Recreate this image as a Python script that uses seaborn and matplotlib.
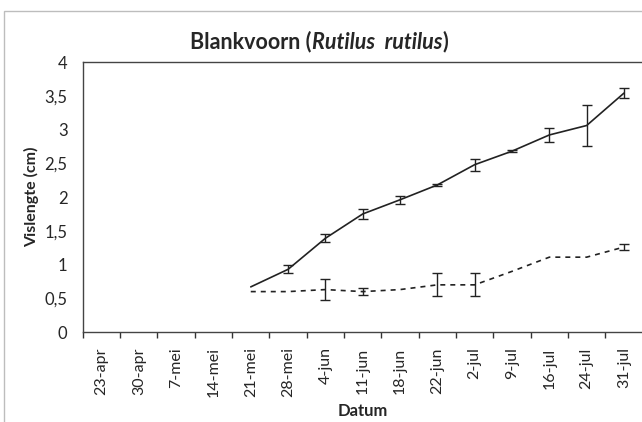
import matplotlib
matplotlib.use("Agg")
import matplotlib.pyplot as plt
import matplotlib.ticker as mticker
from matplotlib.patches import Rectangle
import seaborn as sns
import pandas as pd
import numpy as np

dates = ["23-apr", "30-apr", "7-mei", "14-mei", "21-mei", "28-mei", "4-jun", "11-jun",
         "18-jun", "22-jun", "2-jul", "9-jul", "16-jul", "24-jul", "31-jul"]

# doorgetrokken lijn
lengte_a = [np.nan, np.nan, np.nan, np.nan, 0.67, 0.93, 1.39, 1.75, 1.96, 2.18, 2.48, 2.68, 2.92, 3.06, 3.54]
fout_a = [0, 0, 0, 0, 0.0, 0.06, 0.06, 0.08, 0.06, 0.02, 0.09, 0.01, 0.11, 0.30, 0.07]

# gestippelde lijn
lengte_b = [np.nan, np.nan, np.nan, np.nan, 0.60, 0.60, 0.63, 0.60, 0.63, 0.70, 0.70, 0.90, 1.11, 1.11, 1.26]
fout_b = [0, 0, 0, 0, 0.0, 0.0, 0.15, 0.05, 0.0, 0.17, 0.17, 0.0, 0.0, 0.0, 0.05]

sns.set_style("white")
plt.rcParams["font.family"] = ["Lato", "DejaVu Sans"]

df = pd.DataFrame({"pos": np.arange(len(dates)), "a": lengte_a, "b": lengte_b,
                   "fa": fout_a, "fb": fout_b})

fig = plt.figure(figsize=(6.42, 4.22), dpi=100)
fig.patches.append(Rectangle((0.006, -0.01), 1.0, 0.985, transform=fig.transFigure,
                             fill=False, edgecolor="#bdbdbd", linewidth=1))
ax = fig.add_axes([0.129, 0.213, 0.872, 0.64])

sns.lineplot(data=df, x="pos", y="a", ax=ax, color="#222222", linewidth=1.2)
sns.lineplot(data=df, x="pos", y="b", ax=ax, color="#222222", linewidth=1.2,
             linestyle=(0, (3, 3)))
ea = df.dropna()
ea = ea[ea["fa"] > 0]
ax.errorbar(ea["pos"], ea["a"], yerr=ea["fa"], fmt="none", ecolor="#222222",
            elinewidth=1, capsize=3.5, capthick=1)
eb = df.dropna()
eb = eb[eb["fb"] > 0]
ax.errorbar(eb["pos"], eb["b"], yerr=eb["fb"], fmt="none", ecolor="#222222",
            elinewidth=1, capsize=3.5, capthick=1)

ax.set_xlim(-0.5, len(dates) - 0.5)
ax.set_ylim(0, 4)
ax.set_xticks(np.arange(len(dates)))
ax.set_xticklabels(dates, rotation=90, fontsize=11.5)
ax.xaxis.set_minor_locator(mticker.FixedLocator(np.arange(len(dates) + 1) - 0.5))
ax.tick_params(axis="x", which="major", length=0, pad=11)
ax.tick_params(axis="x", which="minor", length=4, width=1, direction="out", color="#333333")
ax.xaxis.set_tick_params(bottom=True, which="minor")
ax.set_yticks(np.arange(0, 4.01, 0.5))
ax.yaxis.set_major_formatter(mticker.FuncFormatter(
    lambda v, p: ("%g" % v).replace(".", ",")))
ax.tick_params(axis="y", length=0, labelsize=12, pad=11)

for s in ["left", "bottom", "top"]:
    ax.spines[s].set_color("#444444")
    ax.spines[s].set_linewidth(1)
ax.spines["right"].set_visible(False)

ax.set_xlabel("Datum", fontsize=12, fontweight="bold", labelpad=4)
ax.set_ylabel("Vislengte (cm)", fontsize=11.5, fontweight="bold", labelpad=4)

t1 = fig.text(0.296, 0.885, "Blankvoorn (", fontsize=15.5, fontweight="bold", va="baseline")
t2 = ax.annotate("Rutilus  rutilus", xy=(1, 0), xycoords=t1, va="bottom",
                 fontsize=15.5, fontweight="bold", fontstyle="italic")
ax.annotate(")", xy=(1, 0), xycoords=t2, va="bottom", fontsize=15.5, fontweight="bold")

fig.savefig("out.png", dpi=100)
